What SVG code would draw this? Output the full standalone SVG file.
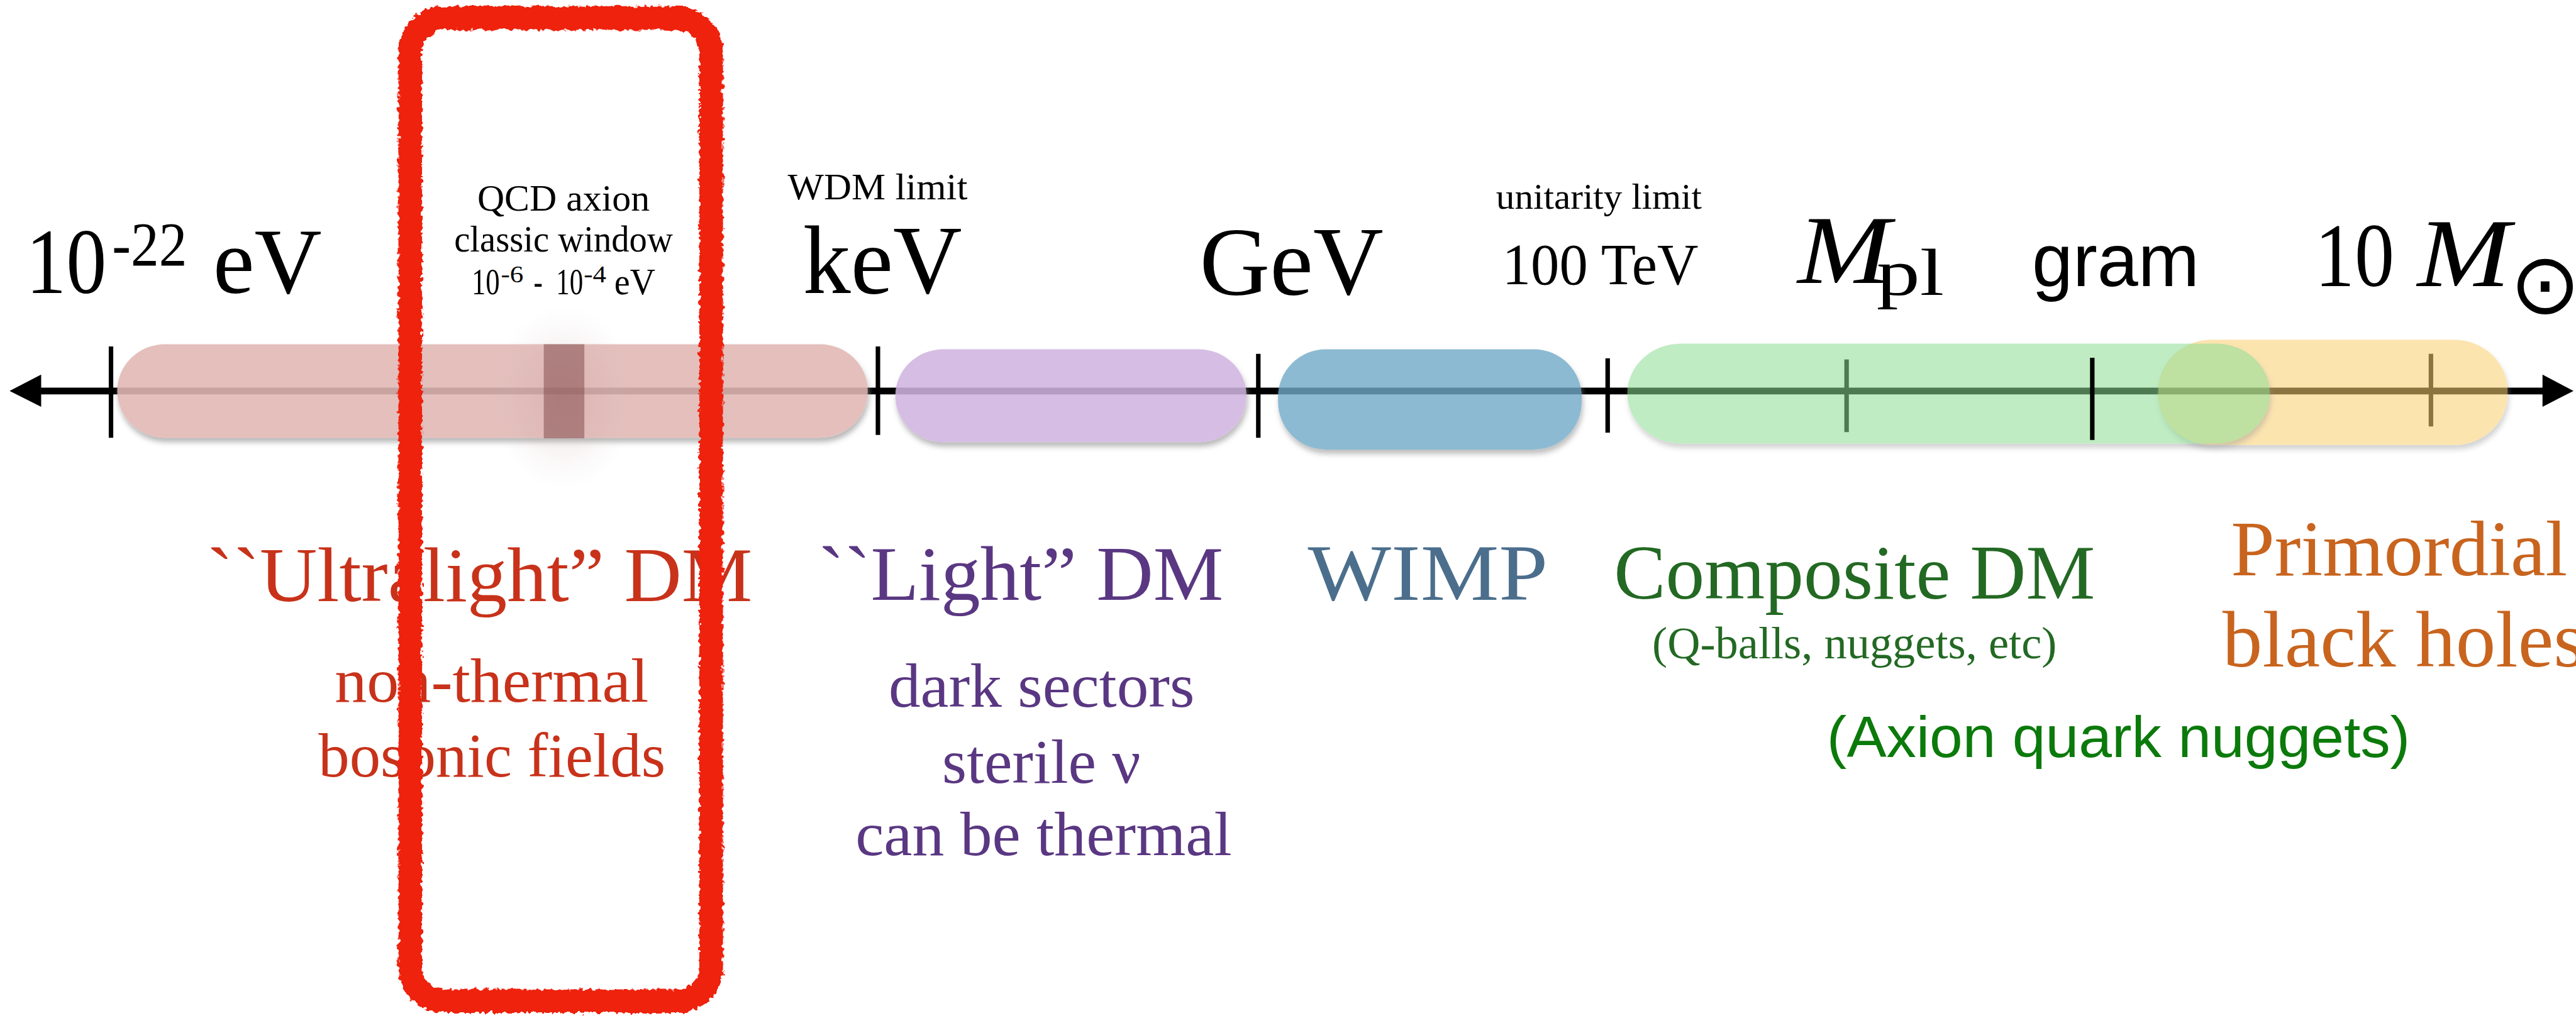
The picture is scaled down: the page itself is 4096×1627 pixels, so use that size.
<svg xmlns="http://www.w3.org/2000/svg" width="4096" height="1627" viewBox="0 0 4096 1627">
<style>
.serif{font-family:"Liberation Serif","Times New Roman",serif;}
.sans{font-family:"Liberation Sans",Arial,sans-serif;}
.blk{fill:#000;}
.tick{stroke:#000;stroke-width:8;}
.ul{fill:#c8321a;}
.li{fill:#5a3782;}
.wi{fill:#4b6e8c;}
.co{fill:#236923;}
.pb{fill:#c8641e;}
</style>
<defs>
<filter id="sh" x="-10%" y="-30%" width="120%" height="170%">
<feGaussianBlur in="SourceAlpha" stdDeviation="5"/>
<feOffset dx="2" dy="8" result="b"/>
<feComposite in="b" in2="SourceAlpha" operator="out" result="s"/>
<feColorMatrix in="s" type="matrix" values="0 0 0 0 0.3  0 0 0 0 0.3  0 0 0 0 0.3  0 0 0 0.75 0" result="s2"/>
<feMerge><feMergeNode in="s2"/><feMergeNode in="SourceGraphic"/></feMerge>
</filter>
<filter id="rough" x="-5%" y="-3%" width="110%" height="106%">
<feTurbulence type="fractalNoise" baseFrequency="0.12" numOctaves="2" seed="4" result="n"/>
<feDisplacementMap in="SourceGraphic" in2="n" scale="12" xChannelSelector="R" yChannelSelector="G"/>
</filter>
<radialGradient id="glow">
<stop offset="0" stop-color="#b08080" stop-opacity="0.18"/>
<stop offset="0.6" stop-color="#c8a8a8" stop-opacity="0.12"/>
<stop offset="1" stop-color="#e0d0d0" stop-opacity="0"/>
</radialGradient>
</defs>
<rect x="0" y="0" width="4096" height="1627" fill="#fff"/>
<g transform="scale(0.896)">
<g id="axis">
<line x1="70" y1="694" x2="4515" y2="694" stroke="#000" stroke-width="12"/>
<polygon class="blk" points="17,694 73,665 73,722"/>
<polygon class="blk" points="4567,694 4512,665 4512,722"/>
<line class="tick" x1="197" y1="615" x2="197" y2="777"/>
<line class="tick" x1="1558" y1="615" x2="1558" y2="772"/>
<line class="tick" x1="2233" y1="628" x2="2233" y2="777"/>
<line class="tick" x1="2853" y1="636" x2="2853" y2="768"/>
<line class="tick" x1="3277" y1="638" x2="3277" y2="767"/>
<line class="tick" x1="4314" y1="628" x2="4314" y2="757"/>
</g>
<g id="band-ultralight">
<rect x="208" y="611" width="1332" height="166" rx="85" ry="83" fill="#e1b8b4" opacity="0.89" filter="url(#sh)"/>
<ellipse cx="1000" cy="706" rx="130" ry="165" fill="url(#glow)"/>
<rect id="qcd-window" x="965" y="611" width="72" height="167" fill="#7c4444" opacity="0.5"/>
</g>
<g id="band-light">
<rect x="1589" y="620" width="623" height="165" rx="85" ry="82" fill="#d0b4e0" opacity="0.867" filter="url(#sh)"/>
</g>
<g id="band-wimp">
<rect x="2268" y="620" width="539" height="178" rx="85" ry="85" fill="#70aac8" opacity="0.8" filter="url(#sh)"/>
</g>
<g id="band-pbh">
<rect x="3830" y="603" width="620" height="187" rx="95" ry="90" fill="#facf72" opacity="0.56" filter="url(#sh)"/>
</g>
<g id="band-composite">
<rect x="2888" y="610" width="1140" height="177" rx="95" ry="88" fill="#8ddd94" opacity="0.553" filter="url(#sh)"/>
<line class="tick" x1="3713" y1="635" x2="3713" y2="781"/>
</g>
<g id="scale-labels" class="serif">
<text class="blk" font-size="165"><tspan x="46" y="520" textLength="143" lengthAdjust="spacingAndGlyphs">10</tspan><tspan x="199" y="471" font-size="110" textLength="133" lengthAdjust="spacingAndGlyphs">-22</tspan><tspan x="378" y="520" textLength="193" lengthAdjust="spacingAndGlyphs">eV</tspan></text>
<text class="blk" font-size="66" x="847" y="374" textLength="306" lengthAdjust="spacingAndGlyphs">QCD axion</text>
<text class="blk" font-size="66" x="806" y="446" textLength="388" lengthAdjust="spacingAndGlyphs">classic window</text>
<text class="blk" font-size="66"><tspan x="837" y="522" textLength="50" lengthAdjust="spacingAndGlyphs">10</tspan><tspan x="889" y="501" font-size="42" textLength="40" lengthAdjust="spacingAndGlyphs">-6</tspan><tspan x="947" y="522" textLength="16" lengthAdjust="spacingAndGlyphs">-</tspan><tspan x="987" y="522" textLength="48" lengthAdjust="spacingAndGlyphs">10</tspan><tspan x="1036" y="501" font-size="42" textLength="40" lengthAdjust="spacingAndGlyphs">-4</tspan><tspan x="1090" y="522" textLength="73" lengthAdjust="spacingAndGlyphs">eV</tspan></text>
<text class="blk" font-size="66" x="1398" y="354" textLength="319" lengthAdjust="spacingAndGlyphs">WDM limit</text>
<text class="blk" font-size="172" x="1425" y="520" textLength="282" lengthAdjust="spacingAndGlyphs">keV</text>
<text class="blk" font-size="172" x="2129" y="522" textLength="326" lengthAdjust="spacingAndGlyphs">GeV</text>
<text class="blk" font-size="64" x="2655" y="371" textLength="365" lengthAdjust="spacingAndGlyphs">unitarity limit</text>
<text class="blk" font-size="104" x="2666" y="504" textLength="348" lengthAdjust="spacingAndGlyphs">100 TeV</text>
<text class="blk" font-size="172"><tspan x="3190" y="502" font-style="italic" textLength="165" lengthAdjust="spacingAndGlyphs">M</tspan><tspan x="3330" y="523" font-size="118" textLength="120" lengthAdjust="spacingAndGlyphs">pl</tspan></text>
<text class="blk sans" font-size="132" x="3606" y="508" textLength="297" lengthAdjust="spacingAndGlyphs">gram</text>
<text class="blk" font-size="160"><tspan x="4108" y="508" textLength="141" lengthAdjust="spacingAndGlyphs">10</tspan><tspan x="4290" y="508" font-size="172" font-style="italic" textLength="165" lengthAdjust="spacingAndGlyphs">M</tspan><tspan x="4454" y="556" font-size="150" font-family="DejaVu Sans, sans-serif">⊙</tspan></text>
</g>
<g id="dm-labels" class="serif">
<text class="ul" font-size="137" x="367" y="1067" textLength="968" lengthAdjust="spacingAndGlyphs">``Ultralight” DM</text>
<text class="ul" font-size="112" x="594" y="1246" textLength="557" lengthAdjust="spacingAndGlyphs">non-thermal</text>
<text class="ul" font-size="112" x="565" y="1378" textLength="616" lengthAdjust="spacingAndGlyphs">bosonic fields</text>
<text class="li" font-size="137" x="1452" y="1065" textLength="719" lengthAdjust="spacingAndGlyphs">``Light” DM</text>
<text class="li" font-size="112" x="1577" y="1255" textLength="543" lengthAdjust="spacingAndGlyphs">dark sectors</text>
<text class="li" font-size="112" x="1672" y="1389" textLength="352" lengthAdjust="spacingAndGlyphs">sterile ν</text>
<text class="li" font-size="112" x="1518" y="1518" textLength="668" lengthAdjust="spacingAndGlyphs">can be thermal</text>
<text class="wi" font-size="142" x="2321" y="1065" textLength="426" lengthAdjust="spacingAndGlyphs">WIMP</text>
<text class="co" font-size="137" x="2864" y="1063" textLength="854" lengthAdjust="spacingAndGlyphs">Composite DM</text>
<text class="co" font-size="80" x="2932" y="1168" textLength="718" lengthAdjust="spacingAndGlyphs">(Q-balls, nuggets, etc)</text>
<text class="pb" font-size="140" x="3959" y="1021" textLength="597" lengthAdjust="spacingAndGlyphs">Primordial</text>
<text class="pb" font-size="142" x="3944" y="1183">black holes</text>
<text class="sans" fill="#0b7a0b" font-size="104" x="3242" y="1344" textLength="1035" lengthAdjust="spacingAndGlyphs">(Axion quark nuggets)</text>
</g>
<g id="highlight-box">
<rect x="728" y="32" width="534" height="1745" rx="60" ry="60" fill="none" stroke="#ee2010" stroke-width="42" filter="url(#rough)"/>
</g>
</g>
</svg>
